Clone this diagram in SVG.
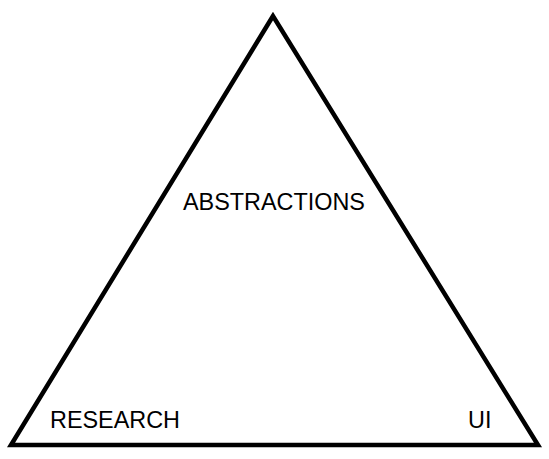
<svg xmlns="http://www.w3.org/2000/svg" width="549" height="459" viewBox="0 0 549 459">
<style>
text{font-family:"Liberation Sans",Arial,sans-serif;font-size:23.4px;fill:#000}
</style>
<rect width="549" height="459" fill="#fff"/>
<g id="triangle">
<polygon points="273,16 11,445 538,445" fill="none" stroke="#000" stroke-width="4.5" stroke-linejoin="miter"/>
</g>
<g id="abstractions"><text x="183" y="210">ABSTRACTIONS</text></g>
<g id="research"><text x="50" y="428">RESEARCH</text></g>
<g id="ui"><text x="468" y="428">UI</text></g>
</svg>
